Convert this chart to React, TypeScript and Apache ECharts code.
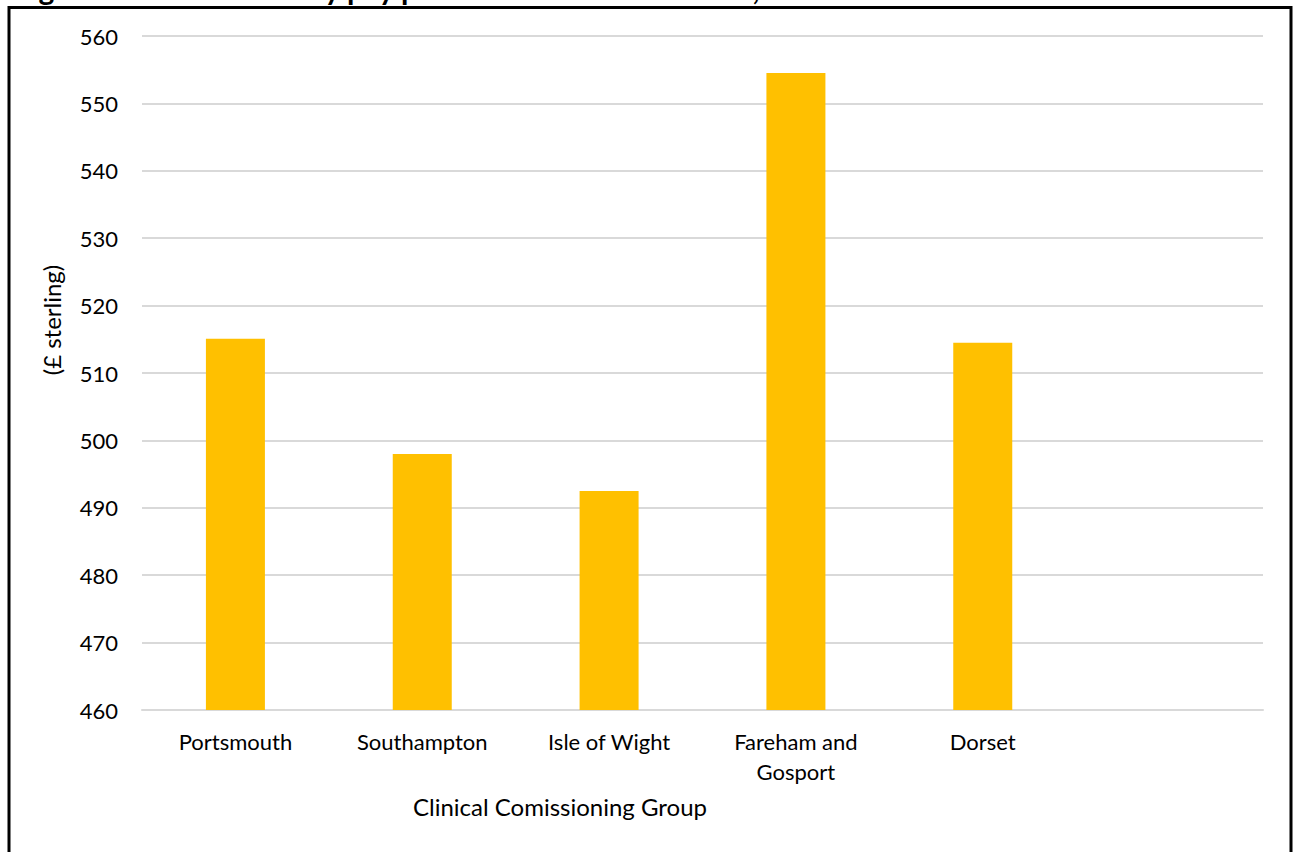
import React, { useEffect, useRef } from "react";
import * as echarts from "echarts";

// Clinical commissioning groups and their values (£ sterling)
const categories = ["Portsmouth", "Southampton", "Isle of Wight", "Fareham and\nGosport", "Dorset", ""];
const values: (number | null)[] = [515.1, 498.0, 492.5, 554.5, 514.5, null];
const yTicks = { min: 460, max: 560, interval: 10 };

const titleText = "Figure 2: Median weekly pay per head in each local area, 2017";
const xAxisName = "Clinical Comissioning Group";
const yAxisName = "(£ sterling)";

const FONT = "Lato, 'Open Sans', sans-serif";

export default function App() {
  const ref = useRef<HTMLDivElement>(null);

  useEffect(() => {
    document.body.style.margin = "0";
    if (!ref.current) return;
    const chart = echarts.init(ref.current, undefined, { renderer: "svg" });
    chart.setOption({
      animation: false,
      backgroundColor: "#ffffff",
      textStyle: { fontFamily: FONT },
      grid: { left: 142, right: 35, top: 36, bottom: 142, containLabel: false },
      xAxis: {
        type: "category",
        data: categories,
        axisTick: { show: false },
        axisLine: { show: true, lineStyle: { color: "#d9d9d9", width: 2 } },
        axisLabel: {
          color: "#000",
          fontSize: 22,
          fontFamily: FONT,
          lineHeight: 30,
          margin: 16,
          interval: 0,
        },
      },
      yAxis: {
        type: "value",
        min: yTicks.min,
        max: yTicks.max,
        interval: yTicks.interval,
        axisLine: { show: false },
        axisTick: { show: false },
        splitLine: { lineStyle: { color: "#d9d9d9", width: 2 } },
        axisLabel: { color: "#000", fontSize: 22, fontFamily: FONT, margin: 24 },
      },
      series: [
        {
          type: "bar",
          data: values,
          barWidth: 59,
          itemStyle: { color: "#FFC000" },
        },
      ],
      graphic: [
        {
          type: "text",
          x: 14,
          y: -12,
          silent: true,
          style: {
            text: titleText,
            fill: "#000",
            font: `bold 30px ${FONT}`,
            verticalAlign: "middle",
          },
        },
        {
          type: "rect",
          silent: true,
          shape: { x: 9, y: 7.5, width: 1282, height: 900 },
          style: { fill: "none", stroke: "#000", lineWidth: 3 },
        },
        {
          type: "text",
          x: 560,
          y: 806,
          silent: true,
          style: {
            text: xAxisName,
            fill: "#000",
            font: `24px ${FONT}`,
            align: "center",
            verticalAlign: "middle",
          },
        },
        {
          type: "text",
          x: 51,
          y: 320,
          rotation: Math.PI / 2,
          silent: true,
          style: {
            text: yAxisName,
            fill: "#000",
            font: `24px ${FONT}`,
            align: "center",
            verticalAlign: "middle",
          },
        },
      ],
    });
    return () => chart.dispose();
  }, []);

  return <div ref={ref} style={{ width: 1298, height: 852 }} />;
}
